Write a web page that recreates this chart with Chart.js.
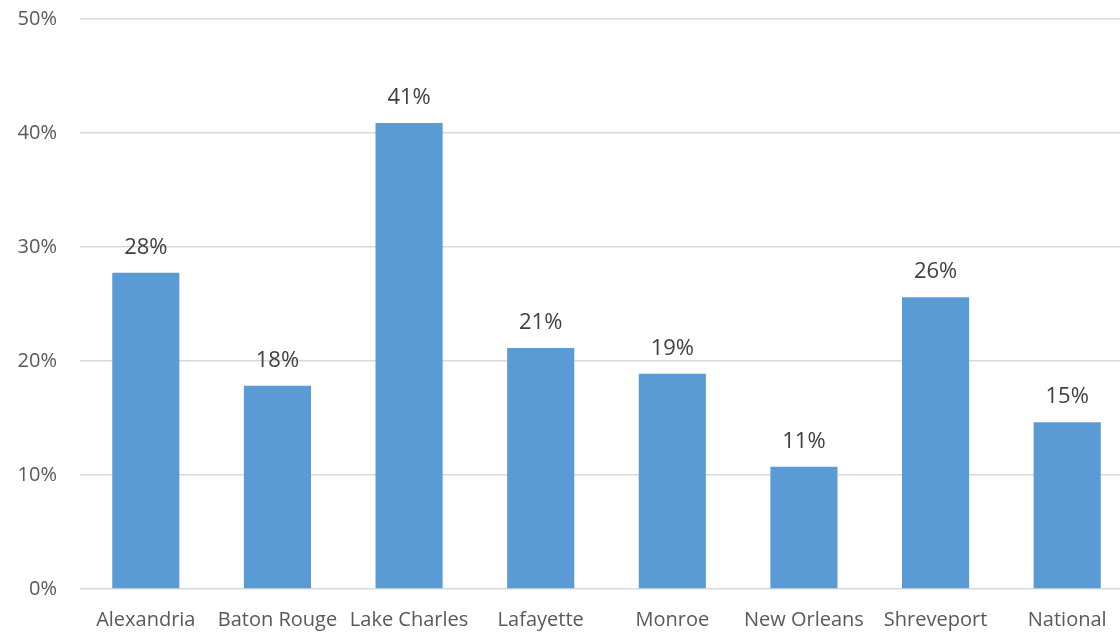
<!DOCTYPE html>
<html>
<head>
<meta charset="utf-8">
<script src="https://cdn.jsdelivr.net/npm/chart.js@4/dist/chart.umd.min.js"></script>
<style>
  html, body { margin: 0; padding: 0; background: #fff; }
  #wrap { width: 1120px; height: 633px; overflow: hidden; position: relative; }
  #chart { position: absolute; left: 0; top: 0; }
</style>
</head>
<body>
<div id="wrap">
  <canvas id="chart" width="1134" height="633"></canvas>
</div>
<script>
// dados
const cities = ['Alexandria', 'Baton Rouge', 'Lake Charles', 'Lafayette', 'Monroe', 'New Orleans', 'Shreveport', 'National'];
const shares = [27.75, 17.83, 40.88, 21.14, 18.89, 10.73, 25.59, 14.62];
const yTicks = [0, 10, 20, 30, 40, 50];

// rótulos acima das barras
const barLabels = {
    id: 'barLabels',
    afterDatasetsDraw(chart) {
        const ctx = chart.ctx;
        const meta = chart.getDatasetMeta(0);
        ctx.save();
        ctx.font = '22px "Open Sans"';
        ctx.fillStyle = '#404040';
        ctx.textAlign = 'center';
        ctx.textBaseline = 'alphabetic';
        meta.data.forEach((bar, i) => {
            ctx.fillText(Math.round(shares[i]) + '%', bar.x, bar.y - 19);
        });
        ctx.restore();
    }
};

// tira os recuos automáticos dos eixos
function noPad(axis) {
    axis.paddingTop = 0;
    axis.paddingBottom = 0;
    axis.paddingLeft = 0;
    axis.paddingRight = 0;
}

new Chart(document.getElementById('chart'), {
    type: 'bar',
    data: {
        labels: cities,
        datasets: [{
            data: shares,
            backgroundColor: '#5b9bd5',
            borderWidth: 0,
            categoryPercentage: 1,
            barPercentage: 0.51
        }]
    },
    options: {
        responsive: false,
        animation: false,
        layout: { padding: { left: 17, right: 1, top: 19, bottom: 0 } },
        plugins: {
            legend: { display: false },
            tooltip: { enabled: false }
        },
        scales: {
            x: {
                afterFit: axis => { noPad(axis); axis.height = 44; },
                grid: { display: false, drawTicks: false },
                border: { display: false },
                ticks: {
                    autoSkip: false,
                    maxRotation: 0,
                    padding: 19,
                    color: '#595959',
                    font: { family: 'Open Sans', size: 20 }
                }
            },
            y: {
                min: 0,
                max: 50,
                afterBuildTicks: axis => { axis.ticks = yTicks.map(v => ({ value: v })); },
                afterFit: axis => { noPad(axis); axis.width = 63; },
                grid: { color: '#d9d9d9', lineWidth: 1.5, drawTicks: false },
                border: { display: false },
                ticks: {
                    padding: 23,
                    color: '#595959',
                    font: { family: 'Open Sans', size: 20 },
                    callback: v => v + '%'
                }
            }
        }
    },
    plugins: [barLabels]
});
</script>
</body>
</html>
